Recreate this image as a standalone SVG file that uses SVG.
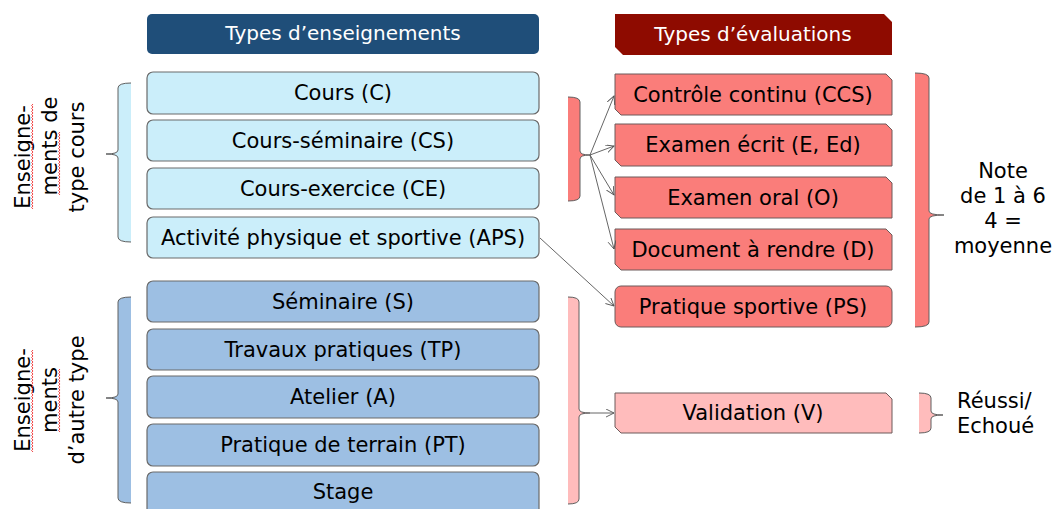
<svg xmlns="http://www.w3.org/2000/svg" width="1053" height="509" viewBox="0 0 1053 509">
<style>
text{font-family:"DejaVu Sans",Verdana,sans-serif;font-size:21px;fill:#000}
.c{text-anchor:middle}
.hd{fill:#fff;font-size:20px}
.lb{fill:#cbeefa;stroke:#6a6a6a;stroke-width:1.2}
.db{fill:#9dbfe3;stroke:#6a6a6a;stroke-width:1.2}
.rd{fill:#fa7d7a;stroke:#6d5a5a;stroke-width:1}
.pk{fill:#ffbcbc;stroke:#6d5a5a;stroke-width:1}
.br{stroke:#606060;stroke-width:1}
.cn{fill:none;stroke:#555;stroke-width:0.9;marker-end:url(#ah)}
.wv{fill:none;stroke:#e33;stroke-width:0.9}
</style>
<defs>
<marker id="ah" markerWidth="10" markerHeight="10" refX="8" refY="4" orient="auto" markerUnits="userSpaceOnUse">
<path d="M0,0 L8,4 L0,8" fill="none" stroke="#555" stroke-width="0.9"/>
</marker>
</defs>
<rect width="1053" height="509" fill="#fff"/>

<g id="hdr-enseignements">
<rect x="147" y="14" width="392" height="40" rx="5" fill="#1f4e79"/>
<text class="c hd" x="343" y="40">Types d’enseignements</text>
</g>
<g id="hdr-evaluations">
<path d="M615,14 L884,14 L892,22 L892,55 L623,55 L615,47 Z" fill="#8e0b00"/>
<text class="c hd" x="753" y="41">Types d’évaluations</text>
</g>

<g id="n-C"><rect class="lb" x="147" y="72" width="392" height="42" rx="6"/><text class="c" x="343" y="100">Cours (C)</text></g>
<g id="n-CS"><rect class="lb" x="147" y="120" width="392" height="41" rx="6"/><text class="c" x="343" y="148">Cours-séminaire (CS)</text></g>
<g id="n-CE"><rect class="lb" x="147" y="168" width="392" height="41" rx="6"/><text class="c" x="343" y="196">Cours-exercice (CE)</text></g>
<g id="n-APS"><rect class="lb" x="147" y="217" width="392" height="41" rx="6"/><text class="c" x="343" y="245">Activité physique et sportive (APS)</text></g>
<g id="n-S"><rect class="db" x="147" y="281" width="392" height="41" rx="6"/><text class="c" x="343" y="309">Séminaire (S)</text></g>
<g id="n-TP"><rect class="db" x="147" y="329" width="392" height="41" rx="6"/><text class="c" x="343" y="357">Travaux pratiques (TP)</text></g>
<g id="n-A"><rect class="db" x="147" y="376" width="392" height="42" rx="6"/><text class="c" x="343" y="404">Atelier (A)</text></g>
<g id="n-PT"><rect class="db" x="147" y="424" width="392" height="42" rx="6"/><text class="c" x="343" y="452">Pratique de terrain (PT)</text></g>
<g id="n-Stage"><rect class="db" x="147" y="472" width="392" height="46" rx="6"/><text class="c" x="343" y="499">Stage</text></g>

<g id="n-CCS"><path class="rd" d="M615,74 L886,74 L892,80 L892,115 L621,115 L615,109 Z"/><text class="c" x="753" y="102">Contrôle continu (CCS)</text></g>
<g id="n-E"><path class="rd" d="M615,124 L886,124 L892,130 L892,166 L621,166 L615,160 Z"/><text class="c" x="753" y="152">Examen écrit (E, Ed)</text></g>
<g id="n-O"><path class="rd" d="M615,177 L886,177 L892,183 L892,218 L621,218 L615,212 Z"/><text class="c" x="753" y="205">Examen oral (O)</text></g>
<g id="n-D"><path class="rd" d="M615,229 L886,229 L892,235 L892,270 L621,270 L615,264 Z"/><text class="c" x="753" y="257">Document à rendre (D)</text></g>
<g id="n-PS"><rect class="rd" x="615" y="286" width="277" height="41" rx="6"/><text class="c" x="753" y="314">Pratique sportive (PS)</text></g>
<g id="n-V"><path class="pk" d="M615,393 L886,393 L892,399 L892,433 L621,433 L615,427 Z"/><text class="c" x="753" y="420">Validation (V)</text></g>

<g id="brace-cours">
<path class="br" fill="#cbeefa" d="M131,83 Q118,83 118,88 L118,150 Q118,154 106,154 Q118,154 118,158 L118,237 Q118,242 131,242"/>
<g transform="translate(0,157) rotate(-90)">
<text class="c" x="0" y="30">Enseigne-</text>
<text class="c" x="11" y="57">ments de</text>
<text class="c" x="0" y="84">type cours</text>
<path class="wv" d="M-52,33 l1.5,-1.4l1.5,1.4l1.5,-1.4l1.5,1.4l1.5,-1.4l1.5,1.4l1.5,-1.4l1.5,1.4l1.5,-1.4l1.5,1.4l1.5,-1.4l1.5,1.4l1.5,-1.4l1.5,1.4l1.5,-1.4l1.5,1.4l1.5,-1.4l1.5,1.4l1.5,-1.4l1.5,1.4l1.5,-1.4l1.5,1.4l1.5,-1.4l1.5,1.4l1.5,-1.4l1.5,1.4l1.5,-1.4l1.5,1.4l1.5,-1.4l1.5,1.4l1.5,-1.4l1.5,1.4l1.5,-1.4l1.5,1.4l1.5,-1.4l1.5,1.4l1.5,-1.4l1.5,1.4l1.5,-1.4l1.5,1.4l1.5,-1.4l1.5,1.4l1.5,-1.4l1.5,1.4l1.5,-1.4l1.5,1.4l1.5,-1.4l1.5,1.4l1.5,-1.4l1.5,1.4l1.5,-1.4l1.5,1.4l1.5,-1.4l1.5,1.4l1.5,-1.4l1.5,1.4l1.5,-1.4l1.5,1.4l1.5,-1.4l1.5,1.4l1.5,-1.4l1.5,1.4l1.5,-1.4l1.5,1.4l1.5,-1.4l1.5,1.4l1.5,-1.4l1.5,1.4l1.5,-1.4l1.5,1.4"/>
<path class="wv" d="M-38,60 l1.5,-1.4l1.5,1.4l1.5,-1.4l1.5,1.4l1.5,-1.4l1.5,1.4l1.5,-1.4l1.5,1.4l1.5,-1.4l1.5,1.4l1.5,-1.4l1.5,1.4l1.5,-1.4l1.5,1.4l1.5,-1.4l1.5,1.4l1.5,-1.4l1.5,1.4l1.5,-1.4l1.5,1.4l1.5,-1.4l1.5,1.4l1.5,-1.4l1.5,1.4l1.5,-1.4l1.5,1.4l1.5,-1.4l1.5,1.4l1.5,-1.4l1.5,1.4l1.5,-1.4l1.5,1.4l1.5,-1.4l1.5,1.4l1.5,-1.4l1.5,1.4l1.5,-1.4l1.5,1.4l1.5,-1.4l1.5,1.4l1.5,-1.4l1.5,1.4"/>
</g>
</g>

<g id="brace-autre">
<path class="br" fill="#9dbfe3" d="M131,297 Q118,297 118,302 L118,394 Q118,398 106,398 Q118,398 118,402 L118,498 Q118,503 131,503"/>
<g transform="translate(0,400) rotate(-90)">
<text class="c" x="0" y="30">Enseigne-</text>
<text class="c" x="0" y="57">ments</text>
<text class="c" x="0" y="84">d’autre type</text>
<path class="wv" d="M-52,33 l1.5,-1.4l1.5,1.4l1.5,-1.4l1.5,1.4l1.5,-1.4l1.5,1.4l1.5,-1.4l1.5,1.4l1.5,-1.4l1.5,1.4l1.5,-1.4l1.5,1.4l1.5,-1.4l1.5,1.4l1.5,-1.4l1.5,1.4l1.5,-1.4l1.5,1.4l1.5,-1.4l1.5,1.4l1.5,-1.4l1.5,1.4l1.5,-1.4l1.5,1.4l1.5,-1.4l1.5,1.4l1.5,-1.4l1.5,1.4l1.5,-1.4l1.5,1.4l1.5,-1.4l1.5,1.4l1.5,-1.4l1.5,1.4l1.5,-1.4l1.5,1.4l1.5,-1.4l1.5,1.4l1.5,-1.4l1.5,1.4l1.5,-1.4l1.5,1.4l1.5,-1.4l1.5,1.4l1.5,-1.4l1.5,1.4l1.5,-1.4l1.5,1.4l1.5,-1.4l1.5,1.4l1.5,-1.4l1.5,1.4l1.5,-1.4l1.5,1.4l1.5,-1.4l1.5,1.4l1.5,-1.4l1.5,1.4l1.5,-1.4l1.5,1.4l1.5,-1.4l1.5,1.4l1.5,-1.4l1.5,1.4l1.5,-1.4l1.5,1.4l1.5,-1.4l1.5,1.4"/>
<path class="wv" d="M-32,60 l1.5,-1.4l1.5,1.4l1.5,-1.4l1.5,1.4l1.5,-1.4l1.5,1.4l1.5,-1.4l1.5,1.4l1.5,-1.4l1.5,1.4l1.5,-1.4l1.5,1.4l1.5,-1.4l1.5,1.4l1.5,-1.4l1.5,1.4l1.5,-1.4l1.5,1.4l1.5,-1.4l1.5,1.4l1.5,-1.4l1.5,1.4l1.5,-1.4l1.5,1.4l1.5,-1.4l1.5,1.4l1.5,-1.4l1.5,1.4l1.5,-1.4l1.5,1.4l1.5,-1.4l1.5,1.4l1.5,-1.4l1.5,1.4l1.5,-1.4l1.5,1.4l1.5,-1.4l1.5,1.4l1.5,-1.4l1.5,1.4l1.5,-1.4l1.5,1.4"/>
</g>
</g>

<g id="bar-note">
<path class="br" fill="#fa7d7a" d="M568,97 Q580,97 580,102 L580,151 Q580,155 590,155 Q580,155 580,159 L580,196 Q580,201 568,201"/>
</g>
<g id="bar-validation">
<path class="br" fill="#ffbcbc" d="M568,297 Q579,297 579,302 L579,409 Q579,413 590,413 Q579,413 579,417 L579,499 Q579,504 568,504"/>
</g>

<g id="brace-note">
<path class="br" fill="#fa7d7a" d="M915,73 Q929,73 929,78 L929,211 Q929,215 944,215 Q929,215 929,219 L929,322 Q929,327 915,327"/>
<text class="c" x="1003" y="178">Note</text>
<text class="c" x="1003" y="203">de 1 à 6</text>
<text class="c" x="1003" y="228">4 =</text>
<text class="c" x="1003" y="253">moyenne</text>
</g>
<g id="brace-reussi">
<path class="br" fill="#ffbcbc" d="M919,393 Q931,393 931,398 L931,411 Q931,415 943,415 Q931,415 931,419 L931,428 Q931,433 919,433"/>
<text x="957" y="408">Réussi/</text>
<text x="957" y="433">Echoué</text>
</g>

<g id="connectors">
<path class="cn" d="M590,155 L614,96"/>
<path class="cn" d="M590,155 L614,146"/>
<path class="cn" d="M590,155 L614,195"/>
<path class="cn" d="M590,155 L614,249"/>
<path class="cn" d="M540,238 L614,306"/>
<path class="cn" d="M590,413 L614,413"/>
</g>
</svg>
